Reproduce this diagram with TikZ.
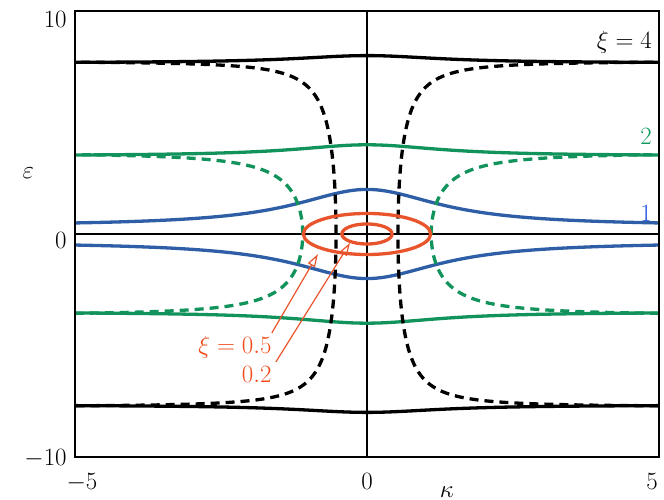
\documentclass[tikz,border=0pt]{standalone}
\usetikzlibrary{arrows.meta}
\definecolor{cgreen}{HTML}{12935C}
\definecolor{cblue}{HTML}{2E5EA6}
\definecolor{lgreen}{HTML}{109A5E}
\definecolor{lblue}{HTML}{1E50E0}
\definecolor{corange}{HTML}{E8552C}
\definecolor{clabel}{HTML}{F04A1A}
\begin{document}
\begin{tikzpicture}[x=58.4pt,y=22.3pt,
  curve/.style={line width=3.3pt},
  dcurve/.style={line width=3.3pt,dash pattern=on 9pt off 6pt},
  lbl/.style={font=\fontsize{38}{40}\selectfont,inner sep=0pt},
  arr/.style={line width=1.2pt,corange,-{Triangle[open,length=13pt,width=8pt]}}]
\useasboundingbox (-6.284,-11.928) rectangle (5.086,10.493);
% crosshair
\draw[line width=1.2pt] (-5,0) -- (5,0) (0,-10) -- (0,10);
% solid curves
\foreach \col/\ei/\eo in {black/7.67/8.0, cgreen/3.5/4.0, cblue/0.36/2.0}{
  \draw[curve,\col,domain=-5:5,samples=100] plot (\x,{\ei+(\eo-\ei)/(1+(\x/1.5)^2)});
  \draw[curve,\col,domain=-5:5,samples=100] plot (\x,{-\ei-(\eo-\ei)/(1+(\x/1.5)^2)});
}
% dashed curves
\foreach \col/\k/\e/\tm in {black/0.53/7.75/83.9, cgreen/1.1/3.65/77.3}{
  \draw[dcurve,\col,domain=-\tm:\tm,samples=150] plot ({\k/cos(\x)},{\e*sin(\x)});
  \draw[dcurve,\col,domain=-\tm:\tm,samples=150] plot ({-\k/cos(\x)},{\e*sin(\x)});
}
% ellipses
\draw[curve,corange] (0,0) ellipse [x radius=1.09, y radius=0.92];
\draw[curve,corange] (0,0) ellipse [x radius=0.43, y radius=0.45];
% frame
\draw[line width=1.6pt] (-5,-10) rectangle (5,10);
% labels
\node[lbl,anchor=base east] (y10) at (-5.14,9.24) {$10$};
\node[lbl,anchor=base east] (y0) at (-5.14,-0.63) {$0$};
\node[lbl,anchor=base east] (ym10) at (-5.14,-10.36) {$-10$};
\node[lbl,anchor=base] (eps) at (-5.8,2.5) {$\varepsilon$};
\node[lbl,anchor=base] (xm5) at (-4.88,-11.48) {$-5$};
\node[lbl,anchor=base] (x0) at (0,-11.48) {$0$};
\node[lbl,anchor=base] (x5) at (4.88,-11.48) {$5$};
\node[lbl,anchor=base] (kap) at (1.37,-11.8) {$\kappa$};
\node[lbl,anchor=base east] (xi4) at (4.88,8.34) {$\xi=4$};
\node[lbl,lgreen,anchor=base east] (l2) at (4.88,4.0) {$2$};
\node[lbl,lblue,anchor=base east] (l1) at (4.88,0.58) {$1$};
\node[lbl,clabel,anchor=base east] (xi05) at (-1.63,-5.34) {$\xi=0.5$};
\node[lbl,clabel,anchor=base east] (xi02) at (-1.63,-6.68) {$0.2$};
\coordinate (s05) at (-1.63,-4.44);
\coordinate (s02) at (-1.56,-5.74);
\coordinate (t05) at (-0.84,-0.9);
\coordinate (t02) at (-0.29,-0.40);
\draw[arr] (s05) -- (t05);
\draw[arr] (s02) -- (t02);
\end{tikzpicture}
\end{document}
